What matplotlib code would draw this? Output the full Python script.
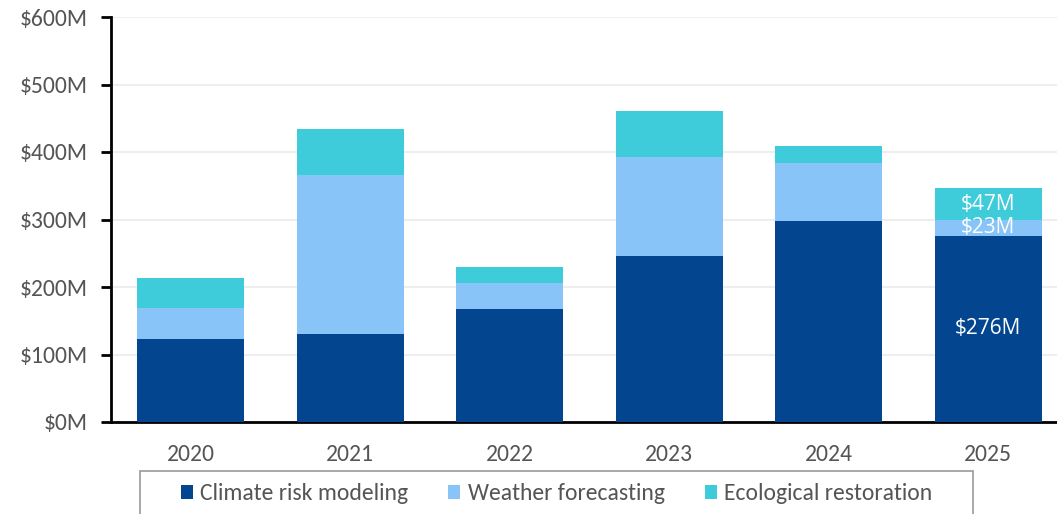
import matplotlib
matplotlib.use("Agg")
import matplotlib.pyplot as plt
from matplotlib.patches import Patch, Rectangle

years = ["2020", "2021", "2022", "2023", "2024", "2025"]
climate_risk = [123, 130, 168, 246, 298, 276]
weather_forecasting = [46, 236, 38, 146, 86, 23]
ecological_restoration = [45, 68, 24, 69, 25, 47]
series_names = ["Climate risk modeling", "Weather forecasting", "Ecological restoration"]
y_ticks = [0, 100, 200, 300, 400, 500, 600]
labeled_year = "2025"

colors = ["#03468F", "#89C4F9", "#3ECCDB"]
plt.rcParams["font.family"] = ["Carlito", "DejaVu Sans"]

fig = plt.figure(figsize=(10.57, 5.14), dpi=100)
W, H = 1057, 514
ax = fig.add_axes([111 / W, (H - 422) / H, (1068 - 111) / W, (422 - 17) / H])

x = list(range(len(years)))
bottoms = [0] * len(years)
series = [climate_risk, weather_forecasting, ecological_restoration]
bars = []
for vals, col, name in zip(series, colors, series_names):
    ax.bar(x, vals, width=0.67, bottom=bottoms, color=col, label=name,
           edgecolor="none", zorder=3)
    bars.append((vals, list(bottoms)))
    bottoms = [bt + v for bt, v in zip(bottoms, vals)]

# value labels on the latest year
li = years.index(labeled_year)
for vals, base in bars:
    ax.text(x[li], base[li] + vals[li] / 2, f"${vals[li]}M", ha="center", va="center",
            color="white", fontsize=15, zorder=4, family=["Open Sans", "DejaVu Sans"])

ax.set_xlim(-0.5, 5.5)
ax.set_ylim(0, 600)
ax.set_yticks(y_ticks)
ax.set_yticklabels([f"${v}M" for v in y_ticks])
ax.set_xticks(x)
ax.set_xticklabels(years)
ax.tick_params(axis="y", length=7, width=2, color="black", labelsize=17,
               labelcolor="#555555", pad=10)
ax.tick_params(axis="x", length=0, labelsize=17, labelcolor="#555555", pad=16)
ax.grid(axis="y", color="#eeeeee", linewidth=1.5, zorder=0)
for s in ["top", "right"]:
    ax.spines[s].set_visible(False)
for s in ["left", "bottom"]:
    ax.spines[s].set_linewidth(2)
    ax.spines[s].set_color("black")

# legend entries, with a separate frame box that runs off the bottom edge
handles = [Patch(facecolor=c, edgecolor="none") for c in colors]
fig.legend(handles, series_names, loc="center left",
           bbox_to_anchor=(181 / W, (H - 494) / H), ncol=3, frameon=False,
           fontsize=17, handlelength=0.51, handleheight=0.55, handletextpad=0.3,
           columnspacing=1.7, borderpad=0, borderaxespad=0, labelcolor="#555555")
fig.patches.append(Rectangle((140 / W, -0.05), (973 - 140) / W, (H - 471) / H + 0.05,
                             transform=fig.transFigure, fill=False,
                             edgecolor="#999999", linewidth=1.2))

fig.savefig("out.png", dpi=100)
